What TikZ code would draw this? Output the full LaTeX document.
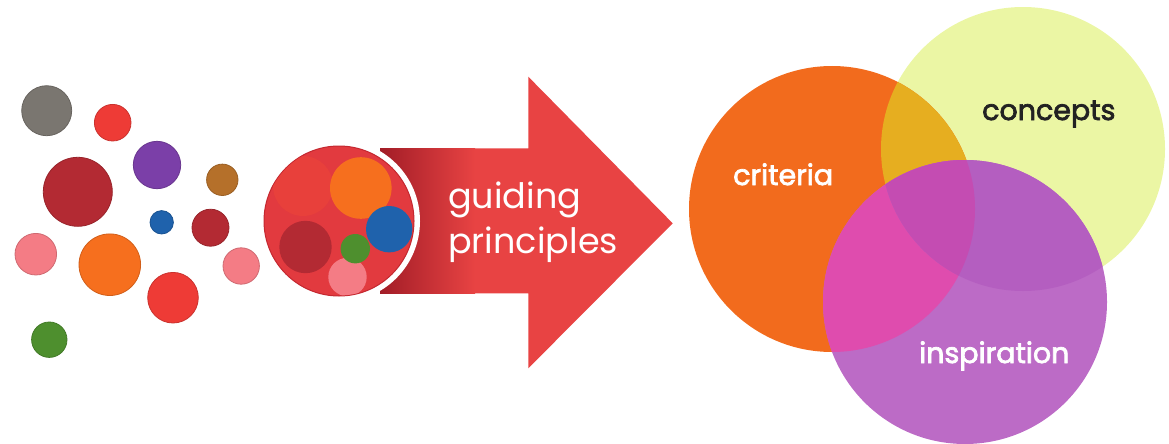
\documentclass[tikz,border=0pt]{standalone}
\usepackage{fontspec}
\newfontfamily\gfont{Poppins}
\newfontfamily\mfont[FakeBold=2.5]{Poppins}
\definecolor{cgray}{HTML}{7A7670}
\definecolor{cred}{HTML}{EE3B36}
\definecolor{cpurple}{HTML}{7B3FA8}
\definecolor{cbrown}{HTML}{B5702A}
\definecolor{cdred}{HTML}{B32A33}
\definecolor{cblue}{HTML}{1F62AC}
\definecolor{cpink}{HTML}{F47C85}
\definecolor{corange}{HTML}{F66F1E}
\definecolor{cgreen}{HTML}{4E8F2E}
\definecolor{bigred}{HTML}{E23A3F}
\definecolor{bigedge}{HTML}{C42830}
\definecolor{bigblob}{HTML}{E8403B}
\definecolor{arrowred}{HTML}{E84343}
\definecolor{arrowdark}{HTML}{A21D27}
\definecolor{vO}{HTML}{F26B1D}
\definecolor{vY}{HTML}{EBF6A4}
\definecolor{vP}{HTML}{BC6BC6}
\definecolor{vOY}{HTML}{E6AE20}
\definecolor{vOP}{HTML}{DF4CAE}
\definecolor{vYP}{HTML}{B45EC0}
\definecolor{vTRI}{HTML}{C44CB2}
\definecolor{ctext}{HTML}{222222}
\tikzset{
  dot/.style={fill=#1, draw=#1!85!black, line width=0.8pt},
  inner/.style={fill=#1},
  whitelabel/.style={text=white, anchor=base west, inner sep=0pt, font=\mfont\fontsize{28.5}{34}\selectfont},
  arrowlabel/.style={text=white, anchor=base west, inner sep=0pt, font=\gfont\fontsize{35}{42}\selectfont},
}
\begin{document}
\begin{tikzpicture}[x=1pt,y=-1pt]
\useasboundingbox (0,0) rectangle (1169,444);
% scattered dots
\path[dot=cgray]   (46.7,110.7) circle (25);
\path[dot=cred]    (112.7,122.7) circle (18.3);
\path[dot=cpurple] (157,165) circle (23.7);
\path[dot=cbrown]  (222.3,179.8) circle (15.7);
\path[dot=cdred]   (77.8,191.8) circle (34.5);
\path[dot=cblue]   (161.7,222.3) circle (11.7);
\path[dot=cdred]   (210.5,227.7) circle (18.5);
\path[dot=cpink]   (35.8,254.2) circle (20.8);
\path[dot=corange] (109.8,264.7) circle (30.8);
\path[dot=cpink]   (241.2,266) circle (18.2);
\path[dot=cred]    (173,297.7) circle (25.3);
\path[dot=cgreen]  (49.3,339.7) circle (17.7);
% arrow
\fill[arrowred] (380,148.3) -- (528.3,148.3) -- (528.3,76.7) -- (672.7,223.3) -- (528.3,368.3) -- (528.3,293.3) -- (380,293.3) -- cycle;
\shade[left color=arrowdark, right color=arrowred] (380,148.3) rectangle (475,293.3);
% big circle
\fill[white] (339,221) circle (81);
\path[fill=bigred, draw=bigedge, line width=1pt] (339,221) circle (75);
\begin{scope}
  \clip (339,221) circle (74.5);
  \fill[bigblob] (303,186) circle (30);
  \path[inner=corange] (360.8,188) circle (30.8);
  \path[inner=cblue] (389.2,229.2) circle (23.2);
  \path[inner=cdred] (305.5,247) circle (26.2);
  \path[inner=cpink] (347.5,277) circle (19.2);
  \path[inner=cgreen] (355.3,248.7) circle (14.7);
\end{scope}
\node[arrowlabel] (guiding) at (448,208) {guiding};
\node[arrowlabel] (principles) at (448,253) {principles};
% venn
\fill[vY] (1023,149) circle (142);
\fill[vO] (832,209) circle (143);
\begin{scope}
  \clip (832,209) circle (143);
  \fill[vOY] (1023,149) circle (142);
\end{scope}
\fill[vP] (965,302) circle (142);
\begin{scope}
  \clip (965,302) circle (142);
  \fill[vOP] (832,209) circle (143);
  \fill[vYP] (1023,149) circle (142);
  \clip (832,209) circle (143);
  \fill[vTRI] (1023,149) circle (142);
\end{scope}
\node[whitelabel] (criteria) at (733,185) {criteria};
\node[whitelabel, text=ctext] (concepts) at (982,120) {concepts};
\node[whitelabel] (inspiration) at (919,363) {inspiration};
\end{tikzpicture}
\end{document}
